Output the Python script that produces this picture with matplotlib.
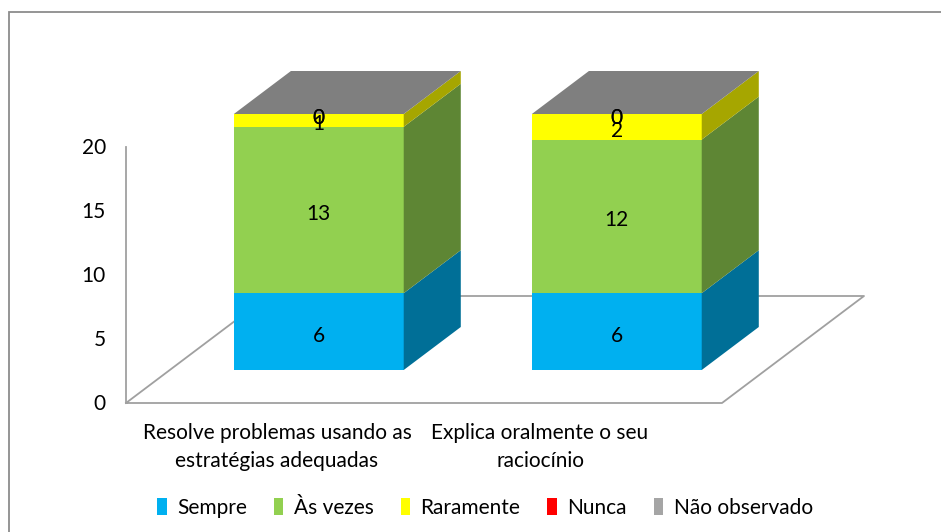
import matplotlib
matplotlib.use("Agg")
import matplotlib.pyplot as plt
from matplotlib.patches import Polygon, Patch, Rectangle
from matplotlib.transforms import offset_copy
import numpy as np

plt.rcParams["font.family"] = ["Lato", "DejaVu Sans"]

categories = ["Resolve problemas usando as\nestratégias adequadas",
              "Explica oralmente o seu\nraciocínio"]
series_names = ["Sempre", "Às vezes", "Raramente", "Nunca", "Não observado"]
sempre = [6, 6]
as_vezes = [13, 12]
raramente = [1, 2]
nunca = [0, 0]
nao_observado = [0, 0]
y_ticks = [0, 5, 10, 15, 20]

front_colors = ["#00B0F0", "#92D050", "#FFFF00", "#FF0000", "#A5A5A5"]
side_colors = ["#006F97", "#5E8634", "#A6A600", "#A60000", "#6B6B6B"]
top_colors = ["#0086B8", "#76A83D", "#CCCC00", "#CC0000", "#7F7F7F"]

# layout (pixels)
W, H, DPI = 941, 532, 100
X0_PX, CAT_PX = 126, 298      # left of floor, width of one category
Y0_PX, UNIT_PX = 403, 12.8    # floor front, pixels per value unit
SLOPE = 142 / 107             # depth dx per depth dy
BAR_FRONT, BAR_BACK, FLOOR_BACK = 33, 76, 107
BAR_W = 0.57
FS = 15


def depth(d):
    return d * SLOPE / CAT_PX, d / UNIT_PX


fig = plt.figure(figsize=(W / DPI, H / DPI), dpi=DPI)
ax = fig.add_axes([0, 0, 1, 1])
ax.set_xlim(-X0_PX / CAT_PX - 0.5, (W - X0_PX) / CAT_PX - 0.5)
ax.set_ylim((Y0_PX - H) / UNIT_PX, Y0_PX / UNIT_PX)
ax.axis("off")

# chart border
fig.patches.append(Rectangle((9 / W, -0.1), 1.2, 1 - 12 / H + 0.1, transform=fig.transFigure,
                             fill=False, edgecolor="#8C8C8C", linewidth=1.3))

# floor and value axis
line_kw = dict(color="#A0A0A0", linewidth=1.3, zorder=1)
fx, fy = depth(FLOOR_BACK)
x_lo, x_hi = -0.5, len(categories) - 0.5
ax.plot([x_lo, x_hi, x_hi + fx, x_lo + fx, x_lo], [0, 0, fy, fy, 0], **line_kw)
ax.plot([x_lo, x_lo], [0, max(y_ticks)], **line_kw)

tick_tr = offset_copy(ax.transData, fig=fig, x=-20, y=-1, units="dots")
for t in y_ticks:
    ax.text(x_lo, t, str(t), transform=tick_tr, ha="right", va="center", fontsize=FS)

# stacked 3D-looking bars
values = np.array([sempre, as_vezes, raramente, nunca, nao_observado], dtype=float)
bx, by = depth(BAR_FRONT)
dx, dy = np.subtract(depth(BAR_BACK), depth(BAR_FRONT))
xs = np.arange(len(categories)) + bx
bottoms = np.zeros(len(categories))
for i, name in enumerate(series_names):
    vals = values[i]
    ax.bar(xs, vals, bottom=bottoms + by, width=BAR_W, color=front_colors[i],
           linewidth=0, zorder=3)
    for x, b, v in zip(xs, bottoms + by, vals):
        r = x + BAR_W / 2
        ax.add_patch(Polygon([(r, b), (r + dx, b + dy), (r + dx, b + v + dy), (r, b + v)],
                             closed=True, facecolor=side_colors[i], linewidth=0, zorder=3))
    bottoms = bottoms + vals

# top faces take the colour of the last series
for x, top in zip(xs, bottoms + by):
    l, r = x - BAR_W / 2, x + BAR_W / 2
    ax.add_patch(Polygon([(l, top), (r, top), (r + dx, top + dy), (l + dx, top + dy)],
                         closed=True, facecolor=top_colors[-1], linewidth=0, zorder=3))

# data labels
lab_tr = offset_copy(ax.transData, fig=fig, x=0, y=-4, units="dots")
bottoms = np.zeros(len(categories))
for i in range(len(series_names)):
    for x, b, v in zip(xs, bottoms, values[i]):
        ax.text(x, b + v / 2 + by, f"{v:g}", transform=lab_tr, ha="center", va="center",
                fontsize=FS, zorder=5)
    bottoms = bottoms + values[i]

# category labels
label_dx = [2, -33]
for k, (lab, off) in enumerate(zip(categories, label_dx)):
    tr = offset_copy(ax.transData, fig=fig, x=off, y=-20, units="dots")
    ax.text(k, 0, lab, transform=tr, ha="center", va="top", fontsize=FS, linespacing=1.5)

handles = [Patch(facecolor=c, edgecolor="none", label=n) for c, n in zip(front_colors, series_names)]
fig.legend(handles=handles, loc="center", bbox_to_anchor=(485 / W, 1 - 508 / H), ncol=5,
           frameon=False, fontsize=FS, handlelength=0.45, handleheight=0.9,
           handletextpad=0.5, columnspacing=1.3)

fig.savefig("out.png", dpi=DPI)
